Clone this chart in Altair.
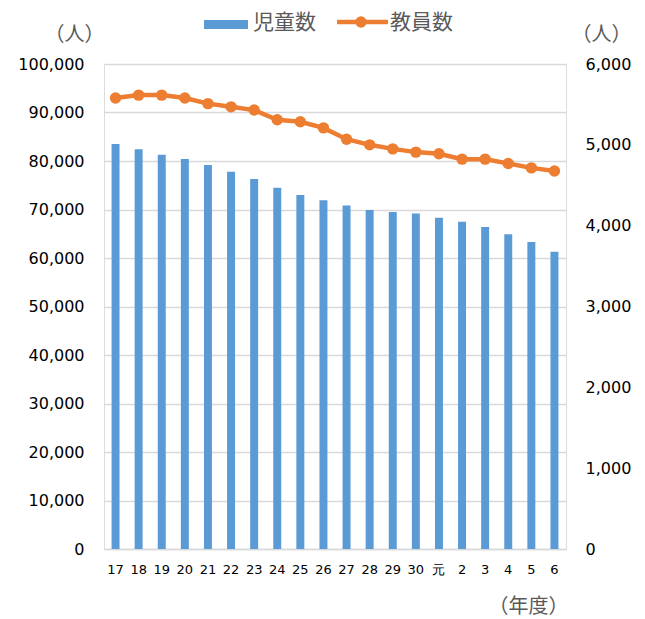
import altair as alt
import pandas as pd

years = ["17", "18", "19", "20", "21", "22", "23", "24", "25", "26",
         "27", "28", "29", "30", "元", "2", "3", "4", "5", "6"]
children = [83500, 82400, 81300, 80400, 79200, 77800, 76300, 74500, 73000, 71900,
            70800, 69900, 69500, 69200, 68300, 67500, 66400, 64900, 63300, 61300]
teachers = [5580, 5615, 5615, 5580, 5510, 5470, 5430, 5310, 5285, 5210,
            5070, 5000, 4950, 4910, 4890, 4823, 4823, 4770, 4715, 4677]

left_ticks = list(range(0, 100001, 10000))
right_ticks = list(range(0, 6001, 1000))

BLUE = "#5B9BD5"
ORANGE = "#ED7D31"
GRAY = "#595959"
NUM_FONT = "DejaVu Sans"
JP_FONT = "Noto Sans CJK JP"

W = 462
H = 485

df = pd.DataFrame({"year": years, "children": children, "teachers": teachers})

x_enc = alt.X("year:N", sort=years,
              scale=alt.Scale(paddingInner=0.655, paddingOuter=0.3275),
              axis=alt.Axis(title="（年度）", labelAngle=0, labelFontSize=13,
                            labelFont=NUM_FONT, labelColor="#000000",
                            labelPadding=14, ticks=False,
                            domainColor="#d9d9d9", domainWidth=1.5,
                            titleFont=JP_FONT, titleFontSize=20,
                            titleFontWeight="normal", titleColor=GRAY,
                            titleAlign="right", titleBaseline="middle",
                            titleX=W + 2, titleY=57))

bars = alt.Chart(df).mark_bar(color=BLUE).encode(
    x=x_enc,
    y=alt.Y("children:Q",
            scale=alt.Scale(domain=[0, 100000], nice=False),
            axis=alt.Axis(orient="left", values=left_ticks, format=",.0f",
                          labelFont=NUM_FONT, labelFontSize=16,
                          labelColor="#000000", labelPadding=20,
                          ticks=False, domain=False, grid=True,
                          gridColor="#d9d9d9", gridWidth=1.5,
                          title="（人）", titleAngle=0, titleFont=JP_FONT,
                          titleFontSize=20, titleFontWeight="normal",
                          titleColor=GRAY, titleAlign="center",
                          titleBaseline="middle", titleX=-30, titleY=-30)),
)

line = alt.Chart(df).mark_line(
    color=ORANGE, strokeWidth=4.5,
    point=alt.OverlayMarkDef(filled=True, size=130, color=ORANGE, opacity=1),
).encode(
    x=alt.X("year:N", sort=years),
    y=alt.Y("teachers:Q",
            scale=alt.Scale(domain=[0, 6000], nice=False),
            axis=alt.Axis(orient="right", values=right_ticks, format=",.0f",
                          labelFont=NUM_FONT, labelFontSize=16,
                          labelColor="#000000", labelPadding=19,
                          ticks=False, domain=False, grid=False,
                          title="（人）", titleAngle=0, titleFont=JP_FONT,
                          titleFontSize=20, titleFontWeight="normal",
                          titleColor=GRAY, titleAlign="center",
                          titleBaseline="middle", titleX=35, titleY=-30)),
)

one = pd.DataFrame({"k": [0]})
leg_rect = alt.Chart(one).mark_rect(color=BLUE).encode(
    x=alt.value(100), x2=alt.value(144), y=alt.value(-44), y2=alt.value(-35))
leg_text1 = alt.Chart(one).mark_text(
    text="児童数", font=JP_FONT, fontSize=21, color=GRAY, align="left",
    baseline="middle").encode(x=alt.value(149), y=alt.value(-41))
leg_line = alt.Chart(one).mark_rule(color=ORANGE, strokeWidth=4.5).encode(
    x=alt.value(233), x2=alt.value(284), y=alt.value(-42))
leg_pt = alt.Chart(one).mark_circle(color=ORANGE, size=130, opacity=1).encode(
    x=alt.value(257), y=alt.value(-42))
leg_text2 = alt.Chart(one).mark_text(
    text="教員数", font=JP_FONT, fontSize=21, color=GRAY, align="left",
    baseline="middle").encode(x=alt.value(286), y=alt.value(-41))

chart = alt.layer(
    bars, line, leg_rect, leg_text1, leg_line, leg_pt, leg_text2
).resolve_scale(y="independent").properties(
    width=W, height=H,
    autosize=alt.AutoSizeParams(type="none"),
    padding={"left": 96, "top": 56, "right": 67, "bottom": 68},
).configure_view(strokeWidth=0, stroke="transparent").configure(background="white")

chart.save("out.html", embed_options={"renderer": "svg", "actions": False})
